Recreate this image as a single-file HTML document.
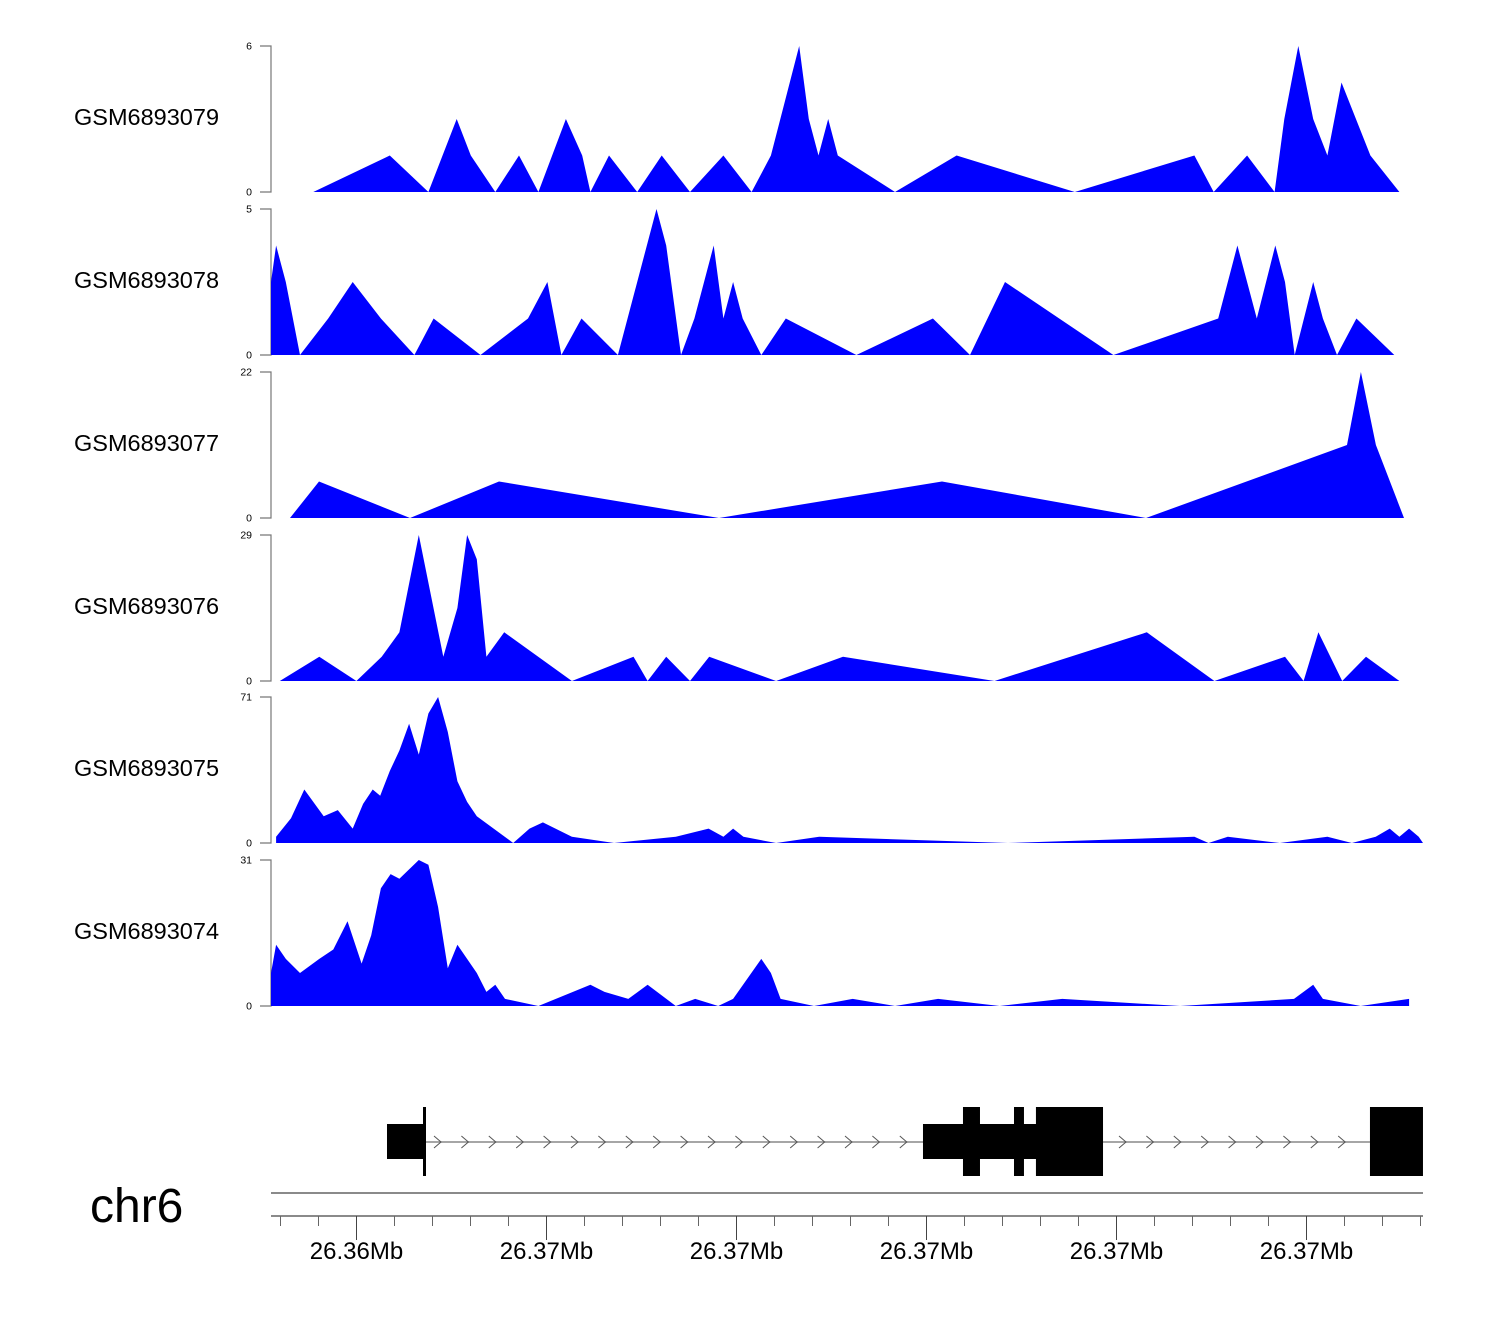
<!DOCTYPE html>
<html><head><meta charset="utf-8"><style>
html,body{margin:0;padding:0;background:#fff}
svg{display:block}
text{font-family:"Liberation Sans",sans-serif}
</style></head><body>
<svg id="chart" width="1500" height="1320" viewBox="0 0 1500 1320" xmlns="http://www.w3.org/2000/svg">
<text x="90" y="1222" font-size="48" fill="#000">chr6</text>
</svg>
<script>
// positions are bp offsets from 26,363,000
const sampleNames = ["GSM6893079","GSM6893078","GSM6893077","GSM6893076","GSM6893075","GSM6893074"];
const trackMax = [6,5,22,29,71,31];
const pos1 = [545,1351,1757,2055,2203,2461,2711,2915,3204,3376,3462,3658,3955,4213,4510,4862,5159,5362,5660,5761,5863,5965,6066,6668,7317,8561,9820,10023,10375,10664,10766,10914,11071,11220,11368,11673,11978];
const val1 = [0,1.5,0,3,1.5,0,1.5,0,3,1.5,0,1.5,0,1.5,0,1.5,0,1.5,6,3,1.5,3,1.5,0,1.5,0,1.5,0,1.5,0,3,6,3,1.5,4.5,1.5,0];
const pos2 = [100,100,154,256,405,702,960,1257,1609,1812,2305,2805,3009,3157,3368,3752,4158,4260,4416,4557,4760,4862,4964,5065,5261,5519,6262,7067,7458,7826,8967,10070,10273,10477,10672,10774,10876,11071,11173,11321,11525,11924];
const val2 = [0,2.5,3.75,2.5,0,1.25,2.5,1.25,0,1.25,0,1.25,2.5,0,1.25,0,5,3.75,0,1.25,3.75,1.25,2.5,1.25,0,1.25,0,1.25,0,2.5,0,1.25,3.75,1.25,3.75,2.5,0,2.5,1.25,0,1.25,0];
const pos3 = [300,605,1563,2500,4816,7163,9311,11426,11573,11731,12026];
const val3 = [0,5.5,0,5.5,0,5.5,0,11,22,11,0];
const pos4 = [193,608,999,1265,1452,1656,1914,2062,2164,2266,2367,2555,3267,3916,4064,4260,4510,4713,5417,6121,7716,9319,10031,10774,10969,11125,11376,11626,11978];
const val4 = [0,4.83,0,4.83,9.67,29,4.83,14.5,29,24.2,4.83,9.67,0,4.83,0,4.83,0,4.83,0,4.83,0,9.67,0,4.83,0,9.67,0,4.83,0];
const pos5 = [154,154,311,451,655,803,960,1069,1171,1249,1351,1452,1554,1656,1757,1859,1961,2062,2164,2266,2649,2821,2962,3267,3712,4361,4706,4862,4964,5073,5417,5871,7857,9820,9968,10172,10720,11220,11478,11728,11876,11978,12080,12181,12226];
const val5 = [0,3,12,26,13,16,7,19,26,23,35,45,58,43,63,71,54,30,20,13,0,7,10,3,0,3,7,3,7,3,0,3,0,3,0,3,0,3,0,3,7,3,7,3,0];
const pos6 = [100,100,154,256,405,608,756,905,1054,1155,1257,1359,1452,1554,1656,1757,1859,1961,2062,2266,2367,2461,2563,2915,3462,3611,3861,4064,4361,4565,4807,4964,5261,5362,5464,5816,6223,6668,7122,7771,8428,9671,10868,11071,11173,11571,12080,12080];
const val6 = [0,7,13,10,7,10,12,18,9,15,25,28,27,29,31,30,21,8,13,7,3,4.5,1.5,0,4.5,3,1.5,4.5,0,1.5,0,1.5,10,7,1.5,0,1.5,0,1.5,0,1.5,0,1.5,4.5,1.5,0,1.5,0];
const thickExons = [[1321,1700],[6963,8858]];
const tallExons = [[1700,1730],[7384,7563],[7921,8026],[8152,8858],[11668,12226]];
const intron = [1700,11668];
const majorTicks = [1000,3000,5000,7000,9000,11000];
const tickLabels = ["26.36Mb","26.37Mb","26.37Mb","26.37Mb","26.37Mb","26.37Mb"];
const minorStart = 200, minorStep = 400, domainEnd = 12226;

const NS = "http://www.w3.org/2000/svg";
const svg = document.getElementById("chart");
const X0 = 271, X1 = 1423;
function xs(p){ return X0 + (p - 100) * 0.095; }
function mk(tag, attrs, parent){ const e = document.createElementNS(NS, tag); for (const k in attrs) e.setAttribute(k, attrs[k]); (parent||svg).appendChild(e); return e; }

const allPos = [pos1,pos2,pos3,pos4,pos5,pos6];
const allVal = [val1,val2,val3,val4,val5,val6];
const tops = [46,209,372,535,697,860];
const H = 146;
for (let t = 0; t < 6; t++) {
  const top = tops[t], base = top + H, mx = trackMax[t];
  const ys = v => base - v / mx * H;
  const g = mk("g", {});
  
  
  const lab = mk("text", {x: 74, y: top + 79, "font-size": 23.5, fill: "#000"}, g);
  lab.textContent = sampleNames[t];
  
  
  const ax = mk("path", {d: `M260 ${top}H271V${base}H260`, fill: "none", stroke: "#777", "stroke-width": 1.2}, g);
  
  
  const tm = mk("text", {x: 252, y: top + 3.5, "font-size": 10.5, "text-anchor": "end", fill: "#000"}, g);
  tm.textContent = String(mx);
  
  
  const t0 = mk("text", {x: 252, y: base + 3.5, "font-size": 10.5, "text-anchor": "end", fill: "#000"}, g);
  t0.textContent = "0";
  
  
  const P = allPos[t], V = allVal[t];
  let d = `M${xs(P[0]).toFixed(1)} ${base}`;
  for (let i = 0; i < P.length; i++) d += `L${xs(P[i]).toFixed(1)} ${ys(V[i]).toFixed(1)}`;
  d += `L${xs(P[P.length-1]).toFixed(1)} ${base}Z`;
  const area = mk("path", {d: d, fill: "#0000ff", stroke: "none"}, g);
  
  
}

// gene model
const gg = mk("g", {});


const il = mk("line", {x1: xs(intron[0]), x2: xs(intron[1]), y1: 1142, y2: 1142, stroke: "#888", "stroke-width": 1.5}, gg);


for (let p = xs(intron[0]) + 15; p < xs(intron[1]) - 5; p += 27.4) {
  if (p > xs(thickExons[1][0]) - 6 && p < xs(tallExons[3][1]) + 4) continue;
  const ch = mk("path", {d: `M${p-4} 1136L${p+3} 1142L${p-4} 1148`, fill: "none", stroke: "#555", "stroke-width": 1}, gg);
  
  
}
thickExons.forEach(e => {
  const r = mk("rect", {x: xs(e[0]), y: 1124, width: xs(e[1]) - xs(e[0]), height: 35, fill: "#000"}, gg);
  
  
});
tallExons.forEach(e => {
  const r = mk("rect", {x: xs(e[0]), y: 1107, width: Math.max(3, xs(e[1]) - xs(e[0])), height: 69, fill: "#000"}, gg);
  
  
});

// genome axis
const ga = mk("g", {});


const l1 = mk("line", {x1: X0, x2: X1, y1: 1193, y2: 1193, stroke: "#444", "stroke-width": 1.2}, ga);


const l2 = mk("line", {x1: X0, x2: X1, y1: 1216, y2: 1216, stroke: "#444", "stroke-width": 1.2}, ga);


for (let p = minorStart; p <= domainEnd; p += minorStep) {
  const tk = mk("line", {x1: xs(p), x2: xs(p), y1: 1216, y2: 1226, stroke: "#666", "stroke-width": 1}, ga);
  
  
}
majorTicks.forEach((p, i) => {
  const tk = mk("line", {x1: xs(p), x2: xs(p), y1: 1216, y2: 1240, stroke: "#444", "stroke-width": 1}, ga);
  
  
  const tl = mk("text", {x: xs(p), y: 1259, "font-size": 24, "text-anchor": "middle", fill: "#000"}, ga);
  tl.textContent = tickLabels[i];
  
  
});
</script>
</body></html>
